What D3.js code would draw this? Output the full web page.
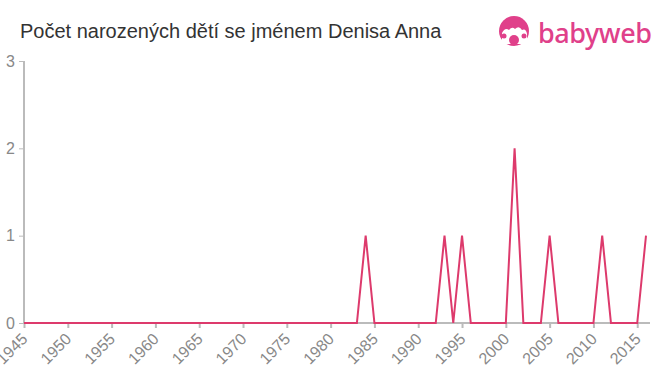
<!DOCTYPE html>
<html><head><meta charset="utf-8">
<script src="https://cdn.jsdelivr.net/npm/d3@7"></script>
<style>body{margin:0;background:#fff}svg{display:block}</style>
</head><body>
<svg id="c" width="660" height="375"></svg>
<script>
const years = d3.range(1945, 2017);
const peakYears = [1984, 1993, 1995, 2001, 2005, 2011, 2016];
const peakValues = [1, 1, 1, 2, 1, 1, 1];
const counts = years.map(y => { const i = peakYears.indexOf(y); return i >= 0 ? peakValues[i] : 0; });
const xTicks = [1945, 1950, 1955, 1960, 1965, 1970, 1975, 1980, 1985, 1990, 1995, 2000, 2005, 2010, 2015];
const yTicks = [0, 1, 2, 3];
const title = "Počet narozených dětí se jménem Denisa Anna";

const svg = d3.select("#c");
const x = d3.scaleLinear().domain([1945, 2016]).range([24, 646]);
const y = d3.scaleLinear().domain([0, 3]).range([323, 61]);
const font = "'Liberation Sans', Arial, sans-serif";

svg.append("text").attr("x", 20).attr("y", 38).attr("font-family", font)
  .attr("font-size", 20).attr("fill", "#333").text(title);

// logo
const logo = svg.append("g");
logo.append("circle").attr("cx", 514).attr("cy", 31).attr("r", 15).attr("fill", "#e0408a");
logo.append("path").attr("d", "M502,33 q3,-6 7,-3 q3,-4 6,-1 q4,-4 7,1 q4,-2 5,4 l0,10 l-25,0 z").attr("fill", "#fff");
logo.append("circle").attr("cx", 514).attr("cy", 40).attr("r", 5).attr("fill", "#e0408a");
logo.append("circle").attr("cx", 504).attr("cy", 36).attr("r", 2.5).attr("fill", "#e0408a");
logo.append("circle").attr("cx", 524).attr("cy", 36).attr("r", 2.5).attr("fill", "#e0408a");
logo.append("text").attr("x", 538).attr("y", 43).attr("font-family", "'Noto Sans', 'DejaVu Sans', sans-serif")
  .attr("font-size", 27).attr("font-weight", 500).attr("fill", "#e0408a").attr("textLength", 114).text("babyweb");

// y axis
const ya = svg.append("g").attr("transform", "translate(24,0)")
  .call(d3.axisLeft(y).tickValues(yTicks).tickSize(5).tickFormat(d3.format("d")));
ya.select(".domain").attr("stroke", "#bbb").attr("stroke-width", 2).attr("d", "M0,61V323");
ya.selectAll(".tick line").attr("stroke", "#bbb").attr("stroke-width", 1);
ya.selectAll(".tick text").attr("font-family", font).attr("font-size", 16).attr("fill", "#888").attr("x", -9);

// x axis
const xa = svg.append("g").attr("transform", "translate(0,323)")
  .call(d3.axisBottom(x).tickValues(xTicks).tickSize(5).tickFormat(d3.format("d")));
xa.select(".domain").attr("stroke", "#bbb").attr("stroke-width", 2).attr("d", "M24,0H650");
xa.selectAll(".tick line").attr("stroke", "#bbb").attr("stroke-width", 2);
xa.selectAll(".tick text").attr("font-family", font).attr("font-size", 16).attr("fill", "#888")
  .attr("text-anchor", "end").attr("dy", 0).attr("y", 0).attr("transform", "translate(4,17) rotate(-45)");

// line
svg.append("path").datum(years.map((yr, i) => [yr, counts[i]]))
  .attr("fill", "none").attr("stroke", "#dd3a6c").attr("stroke-width", 2)
  .attr("d", d3.line().x(d => x(d[0])).y(d => y(d[1])));
</script>
</body></html>
